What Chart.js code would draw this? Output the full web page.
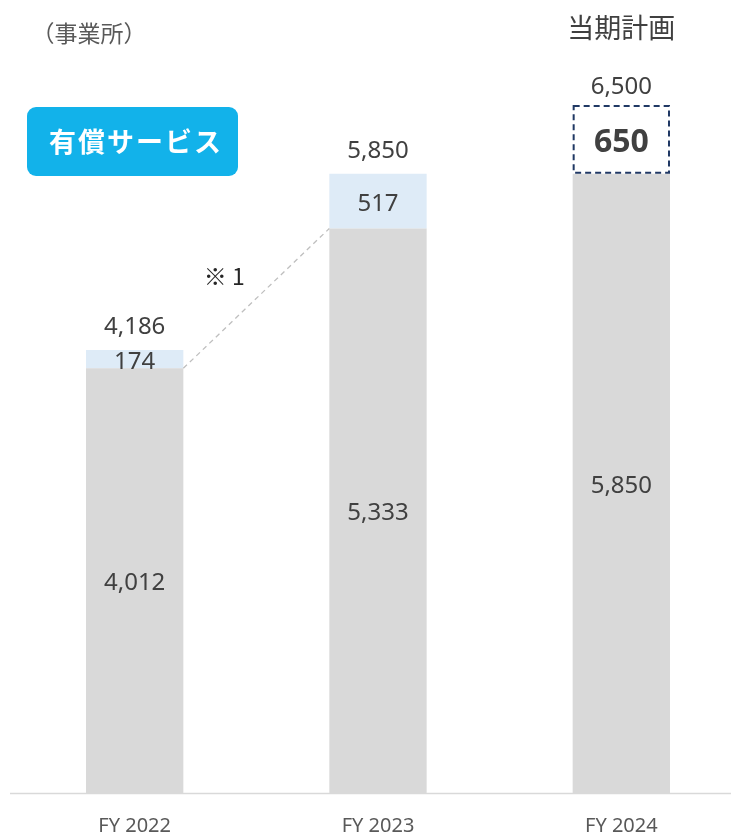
<!DOCTYPE html>
<html lang="ja">
<head>
<meta charset="utf-8">
<title>有償サービス 事業所数</title>
<script src="https://cdn.jsdelivr.net/npm/chart.js@4/dist/chart.umd.min.js"></script>
<style>
    html, body { margin: 0; padding: 0; background: #ffffff; overflow: hidden; }
    #wrap { width: 760px; height: 835px; }
</style>
</head>
<body>
<div id="wrap"><canvas id="chart"></canvas></div>
<script>
const categories = ['FY 2022', 'FY 2023', 'FY 2024'];
const baseValues = [4012, 5333, 5850];   // 事業所（既存）
const paidValues = [174, 517, 650];      // 有償サービス
const planIndex = 2;                     // 当期計画の列

const numFont = "'Noto Sans', sans-serif";
const jpFont = "'Noto Sans CJK JP', 'Noto Sans', sans-serif";
const fmt = v => v.toLocaleString('en-US');

// ラベル・注記・破線枠を描くプラグイン
const overlay = {
    id: 'overlay',
    afterDatasetsDraw(chart) {
        const ctx = chart.ctx;
        const base = chart.getDatasetMeta(0).data;
        const paid = chart.getDatasetMeta(1).data;
        ctx.save();

        // 基準線
        ctx.strokeStyle = '#d9d9d9';
        ctx.lineWidth = 1.5;
        ctx.beginPath();
        ctx.moveTo(10, chart.chartArea.bottom + 0.5);
        ctx.lineTo(chart.width, chart.chartArea.bottom + 0.5);
        ctx.stroke();

        // FY2022 -> FY2023 の破線
        const a = base[0], b = base[1];
        const ax = a.x + a.width / 2, bx = b.x - b.width / 2;
        ctx.strokeStyle = '#bfbfbf';
        ctx.lineWidth = 1.3;
        ctx.setLineDash([5, 4]);
        ctx.beginPath();
        ctx.moveTo(ax, a.y);
        ctx.lineTo(bx, b.y);
        ctx.stroke();

        // 計画値の破線枠
        const p = paid[planIndex];
        ctx.strokeStyle = '#203864';
        ctx.lineWidth = 2;
        ctx.setLineDash([6, 4]);
        ctx.strokeRect(p.x - p.width / 2 + 1, p.y + 1, p.width - 2, p.base - p.y - 2);
        ctx.setLineDash([]);

        ctx.textAlign = 'center';
        ctx.textBaseline = 'middle';

        // 区間ラベル
        ctx.fillStyle = '#404040';
        base.forEach((el, i) => {
            ctx.font = `24px ${numFont}`;
            ctx.fillText(fmt(baseValues[i]), el.x, (el.y + el.base) / 2 + 2.5);
        });
        paid.forEach((el, i) => {
            ctx.font = i === planIndex ? `bold 32px ${numFont}` : `24px ${numFont}`;
            const dy = i === planIndex ? 4 : 3;
            ctx.fillText(fmt(paidValues[i]), el.x, (el.y + el.base) / 2 + dy);
        });

        // 合計ラベル
        ctx.font = `24px ${numFont}`;
        paid.forEach((el, i) => {
            const off = i === planIndex ? 18 : 23;
            ctx.fillText(fmt(baseValues[i] + paidValues[i]), el.x, el.y - off);
        });

        // ※1
        ctx.fillStyle = '#262626';
        ctx.font = `23px ${jpFont}`;
        ctx.fillText('※ 1', (ax + bx) / 2 - 32, (a.y + b.y) / 2 - 22);

        // 当期計画
        ctx.fillStyle = '#404040';
        ctx.font = `27px ${jpFont}`;
        ctx.fillText('当期計画', p.x, 28);

        // （事業所）
        ctx.fillStyle = '#595959';
        ctx.font = `23px ${jpFont}`;
        ctx.fillText('（事業所）', 89, 33);

        // 有償サービス バッジ
        ctx.fillStyle = '#12b2ea';
        ctx.beginPath();
        ctx.roundRect(27, 107, 211, 69, 9);
        ctx.fill();
        ctx.fillStyle = '#ffffff';
        ctx.font = `bold 27px ${jpFont}`;
        ctx.letterSpacing = '2px';
        ctx.fillText('有償サービス', 136, 142);

        ctx.restore();
    }
};

new Chart(document.getElementById('chart'), {
    type: 'bar',
    data: {
        labels: categories,
        datasets: [
            {
                label: '既存',
                data: baseValues,
                backgroundColor: '#d9d9d9',
                borderWidth: 0
            },
            {
                label: '有償サービス',
                data: paidValues,
                backgroundColor: ['#deebf7', '#deebf7', '#ffffff'],
                borderWidth: 0
            }
        ]
    },
    options: {
        responsive: true,
        maintainAspectRatio: false,
        animation: false,
        layout: { padding: { top: 52, left: 13, right: 17, bottom: 0 } },
        datasets: { bar: { barPercentage: 0.4, categoryPercentage: 1 } },
        plugins: {
            legend: { display: false },
            tooltip: { enabled: false }
        },
        scales: {
            x: {
                stacked: true,
                grid: { display: false, drawTicks: false },
                border: { display: false },
                ticks: {
                    color: '#595959',
                    font: { family: numFont, size: 20 },
                    padding: 21
                },
                afterFit(scale) { scale.height = 42; }
            },
            y: {
                stacked: true,
                display: false,
                min: 0,
                max: 7000
            }
        }
    },
    plugins: [overlay]
});
</script>
</body>
</html>
